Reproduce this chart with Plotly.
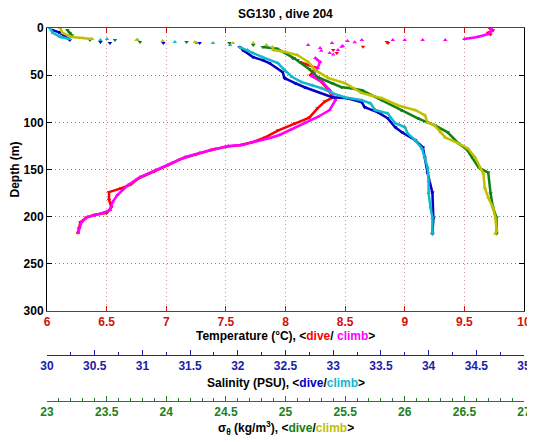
import plotly.graph_objects as go

# ---------------- data ----------------
# Temperature, dive (red)
temp_dive_top_d = [0, 2.5, 5, 7]
temp_dive_top = [9.71, 9.74, 9.70, 9.72]
temp_dive_mid_d = [14.9, 16, 20, 23.4, 26.6, 32, 34]
temp_dive_mid = [8.85, 8.86, 8.65, 8.40, 8.43, 8.06, 8.10]
temp_dive_d = [36, 42, 50, 57, 66, 73.4, 78, 85, 95, 101, 108.5, 116, 121, 124, 126, 129, 134, 139, 145,
               152, 160, 166, 170, 174, 182, 190, 196, 198, 201, 206, 212, 217]
temp_dive = [8.12, 8.25, 8.21, 8.30, 8.36, 8.40, 8.33, 8.27, 8.20, 8.08, 7.94, 7.83, 7.72, 7.62, 7.50, 7.38,
             7.25, 7.12, 7.02, 6.90, 6.76, 6.70, 6.62, 6.52, 6.52, 6.54, 6.50, 6.40, 6.33, 6.28, 6.27, 6.26]

# Temperature, climb (magenta)
temp_climb_top_d = [0, 3.2, 6.4, 9.5, 11.7]
temp_climb_top = [9.72, 9.73, 9.70, 9.61, 9.50]
temp_climb_mid_d = [12.7, 12.7, 12.7, 12.7, 12.7, 13.8, 15.9, 18, 21.2, 23.3, 26.5, 20, 24, 15, 19, 28]
temp_climb_mid = [9.34, 9.15, 9.00, 8.90, 8.64, 8.52, 8.39, 8.19, 8.29, 8.44, 8.37, 8.47, 8.30, 8.58, 8.48, 8.40]
temp_climb_d = [31.8, 36, 42.4, 50.9, 57.2, 65.7, 76.3, 86.9, 94.3, 100.7, 108.1, 113.4, 116.6, 120.9, 124,
                125.1, 128.3, 132.5, 136.8, 143.1, 150.5, 158, 166.4, 177, 184.5, 193, 197.2, 200.4, 205.7,
                212, 217.3]
temp_climb = [8.25, 8.29, 8.27, 8.22, 8.31, 8.37, 8.42, 8.37, 8.27, 8.16, 8.04, 7.95, 7.87, 7.74, 7.64, 7.52,
              7.41, 7.28, 7.16, 7.05, 6.91, 6.78, 6.68, 6.59, 6.55, 6.53, 6.44, 6.34, 6.29, 6.27, 6.26]

# Salinity, dive (blue)
sal_dive_top_d = [2, 4.3, 8, 12.8]
sal_dive_top = [30.05, 30.12, 30.18, 30.24]
sal_dive_mid_d = [14.9, 16, 16, 16, 20.2]
sal_dive_mid = [30.56, 30.66, 31.22, 31.60, 32.02]
sal_dive_d = [23.4, 30.9, 34, 37.2, 46.8, 53.2, 58.5, 62.8, 73.4, 74.5, 78.7, 84, 89.4, 95.7, 105.3, 110.6,
              119, 126.6, 137.2, 154, 174.5, 202, 218]
sal_dive = [32.05, 32.16, 32.26, 32.33, 32.47, 32.49, 32.60, 32.70, 32.99, 33.15, 33.30, 33.33, 33.47,
            33.57, 33.65, 33.72, 33.86, 33.94, 33.96, 33.99, 34.04, 34.05, 34.04]

# Salinity, climb (cyan)
sal_climb_top_d = [0, 5, 9.5, 11.7]
sal_climb_top = [30.03, 30.06, 30.14, 30.24]
sal_climb_mid_d = [12.8, 11.7, 12.8, 14.9, 16, 16, 18]
sal_climb_mid = [30.56, 30.63, 30.95, 31.34, 31.57, 31.74, 31.92]
sal_climb_d = [20.2, 23.4, 26.6, 30.9, 37.2, 44.7, 52, 57.4, 60.6, 63.8, 69, 73.4, 76.6, 79.8, 87, 90.4,
               101, 105, 111.7, 119, 127.7, 137, 148, 162, 175, 190, 201, 218]
sal_climb = [32.02, 32.10, 32.16, 32.26, 32.42, 32.49, 32.57, 32.67, 32.78, 32.88, 32.99, 33.12, 33.30,
             33.39, 33.44, 33.57, 33.65, 33.75, 33.78, 33.86, 33.93, 33.96, 33.99, 34.00, 34.00, 34.02,
             34.04, 34.04]

# Sigma-theta, dive (green)
sig_dive_top_d = [2, 5.3, 8]
sig_dive_top = [23.17, 23.19, 23.21]
sig_dive_mid_d = [12.8, 12.8, 14.9, 14.9, 16, 18]
sig_dive_mid = [23.36, 23.57, 23.78, 24.17, 24.53, 24.73]
sig_dive_d = [20.2, 22, 31.9, 43.6, 52.1, 58.5, 62.8, 63.8, 66, 76.6, 87.2, 95.7, 100, 103, 110.6, 122.3,
              128.7, 138.3, 147.9, 153.2, 175.5, 190.4, 201, 218]
sig_dive = [24.81, 24.93, 25.07, 25.20, 25.27, 25.39, 25.47, 25.55, 25.64, 25.81, 25.97, 26.11, 26.19,
            26.25, 26.36, 26.45, 26.52, 26.57, 26.62, 26.70, 26.72, 26.74, 26.77, 26.77]

# Sigma-theta, climb (yellow)
sig_climb_top_d = [0, 5.3, 9.6, 10.6, 11.7]
sig_climb_top = [23.11, 23.13, 23.21, 23.30, 23.38]
sig_climb_mid_d = [12.8, 13.8, 14.9, 16, 16, 18]
sig_climb_mid = [23.75, 23.97, 24.24, 24.56, 24.73, 24.84]
sig_climb_d = [20.2, 23.4, 25.5, 28.7, 36, 44.7, 53.2, 58.5, 69, 71.3, 74.5, 81.9, 87.2, 92.6, 100, 103.2,
               110.6, 116, 122.3, 127.7, 137.2, 147.9, 154.3, 169.1, 179.8, 190.4, 201, 214.9, 218]
sig_climb = [24.89, 24.90, 25.00, 25.10, 25.19, 25.25, 25.36, 25.50, 25.64, 25.71, 25.81, 25.94, 26.09,
             26.17, 26.19, 26.25, 26.30, 26.34, 26.45, 26.53, 26.59, 26.63, 26.66, 26.67, 26.70, 26.74,
             26.76, 26.77, 26.76]

# axis tick values
temp_ticks = [6, 6.5, 7, 7.5, 8, 8.5, 9, 9.5, 10]
sal_ticks = [30, 30.5, 31, 31.5, 32, 32.5, 33, 33.5, 34, 34.5, 35]
sig_ticks = [23, 23.5, 24, 24.5, 25, 25.5, 26, 26.5, 27]
depth_ticks = [0, 50, 100, 150, 200, 250, 300]

# ---------------- styles ----------------
C_RED = '#ff0000'
C_MAG = '#ff00ff'
C_BLUE = '#0000c8'
C_CYAN = '#10b8cc'
C_GREEN = '#108010'
C_YEL = '#c0c000'
AX_RED = '#d01010'
AX_BLUE = '#2020a8'
AX_GREEN = '#208020'
FONT = 'Liberation Sans, Arial, sans-serif'

fig = go.Figure()


def add_series(xs_top, ds_top, xs_mid, ds_mid, xs, ds, color, symbol, xaxis):
    fig.add_trace(go.Scatter(x=xs_top, y=ds_top, xaxis=xaxis, yaxis='y', mode='lines+markers',
                             line=dict(color=color, width=2.5),
                             marker=dict(color=color, size=4, symbol=symbol)))
    fig.add_trace(go.Scatter(x=xs_mid, y=ds_mid, xaxis=xaxis, yaxis='y', mode='markers',
                             marker=dict(color=color, size=4, symbol=symbol)))
    fig.add_trace(go.Scatter(x=xs, y=ds, xaxis=xaxis, yaxis='y', mode='lines+markers',
                             line=dict(color=color, width=2.5),
                             marker=dict(color=color, size=4, symbol=symbol)))


add_series(temp_dive_top, temp_dive_top_d, temp_dive_mid, temp_dive_mid_d, temp_dive, temp_dive_d,
           C_RED, 'triangle-down', 'x')
add_series(temp_climb_top, temp_climb_top_d, temp_climb_mid, temp_climb_mid_d, temp_climb, temp_climb_d,
           C_MAG, 'triangle-up', 'x')
add_series(sal_dive_top, sal_dive_top_d, sal_dive_mid, sal_dive_mid_d, sal_dive, sal_dive_d,
           C_BLUE, 'triangle-down', 'x2')
add_series(sal_climb_top, sal_climb_top_d, sal_climb_mid, sal_climb_mid_d, sal_climb, sal_climb_d,
           C_CYAN, 'triangle-up', 'x2')
add_series(sig_dive_top, sig_dive_top_d, sig_dive_mid, sig_dive_mid_d, sig_dive, sig_dive_d,
           C_GREEN, 'triangle-down', 'x3')
add_series(sig_climb_top, sig_climb_top_d, sig_climb_mid, sig_climb_mid_d, sig_climb, sig_climb_d,
           C_YEL, 'triangle-up', 'x3')

# the page puts the figure 8px in from the top-left corner; compensate
OFF = 8
W, H = 535 - OFF, 442 - OFF
ML, MR, MT, MB = 47 - OFF, 11, 28 - OFF, 10
PH = H - MT - MB


def py(px):
    """screen pixel y (from window top) -> paper fraction"""
    return (H + OFF - MB - px) / PH


tickfont = lambda c: dict(family=FONT, size=12, color=c, weight='bold')

fig.update_layout(
    width=W, height=H,
    margin=dict(l=ML, r=MR, t=MT, b=MB, autoexpand=False),
    plot_bgcolor='white', paper_bgcolor='white',
    showlegend=False,
    font=dict(family=FONT, size=12, color='black'),
    xaxis=dict(range=[6, 10], tickvals=temp_ticks, ticktext=[f'{v:g}' for v in temp_ticks],
               anchor='y', side='bottom', automargin=False,
               showline=True, linecolor=AX_RED, linewidth=1, mirror='ticks',
               ticks='inside', ticklen=5, tickcolor=AX_RED, tickfont=tickfont(AX_RED),
               showgrid=True, gridcolor='#c89a9a', gridwidth=1, griddash='1px,3px',
               zeroline=False),
    xaxis2=dict(range=[30, 35], tickvals=sal_ticks, ticktext=[f'{v:g}' for v in sal_ticks],
                overlaying='x', anchor='free', position=py(355), side='bottom', automargin=False,
                showline=True, linecolor=AX_BLUE, linewidth=1,
                ticks='inside', ticklen=5, tickcolor=AX_BLUE, tickfont=tickfont(AX_BLUE),
                minor=dict(dtick=0.25, ticks='inside', ticklen=3, tickcolor=AX_BLUE),
                showgrid=False, zeroline=False),
    xaxis3=dict(range=[23, 27], tickvals=sig_ticks, ticktext=[f'{v:g}' for v in sig_ticks],
                overlaying='x', anchor='free', position=py(401), side='bottom', automargin=False,
                showline=True, linecolor=AX_GREEN, linewidth=1,
                ticks='inside', ticklen=5, tickcolor=AX_GREEN, tickfont=tickfont(AX_GREEN),
                minor=dict(dtick=0.1, ticks='inside', ticklen=3, tickcolor=AX_GREEN),
                showgrid=False, zeroline=False),
    yaxis=dict(range=[300, 0], domain=[py(311), 1], tickvals=depth_ticks, automargin=False,
               showline=True, linecolor='black', linewidth=1, mirror='ticks',
               ticks='inside', ticklen=5, tickcolor='black', tickfont=tickfont('black'),
               showgrid=True, gridcolor='#808080', gridwidth=1, griddash='1px,3px',
               zeroline=False,
               title=dict(text='<b>Depth (m)</b>', font=dict(family=FONT, size=12, color='black'),
                          standoff=4)),
)

ann_font = dict(family=FONT, size=12, color='black')
fig.add_annotation(text='<b>SG130 , dive 204</b>', xref='paper', yref='paper', x=0.5, y=py(14),
                   showarrow=False, yanchor='middle', font=ann_font)
fig.add_annotation(
    text=("<b>Temperature (°C), &lt;<span style='color:#ff0000'>dive</span>/ "
          "<span style='color:#ff00ff'>climb</span>&gt;</b>"),
    xref='paper', yref='paper', x=0.5, y=py(336), showarrow=False, yanchor='middle', font=ann_font)
fig.add_annotation(
    text=("<b>Salinity (PSU), &lt;<span style='color:#0000c8'>dive</span>/"
          "<span style='color:#10b8cc'>climb</span>&gt;</b>"),
    xref='paper', yref='paper', x=0.5, y=py(383), showarrow=False, yanchor='middle', font=ann_font)
fig.add_annotation(
    text=("<b>σ<sub>θ</sub> (kg/m<sup>3</sup>), &lt;<span style='color:#108010'>dive</span>/"
          "<span style='color:#c0c000'>climb</span>&gt;</b>"),
    xref='paper', yref='paper', x=0.5, y=py(428), showarrow=False, yanchor='middle', font=ann_font)

fig.write_html("out.html")
